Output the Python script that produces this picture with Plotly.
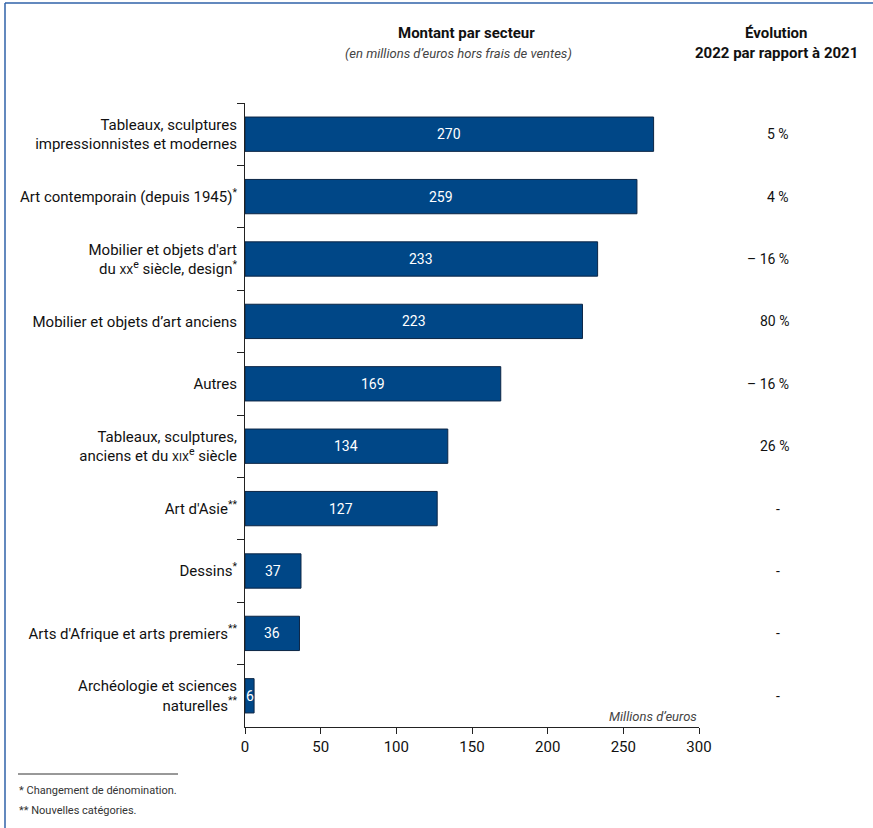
import plotly.graph_objects as go

categories = [
    "Tableaux, sculptures<br>impressionnistes et modernes",
    "Art contemporain (depuis 1945)<sup>*</sup>",
    "Mobilier et objets d'art<br>du <span style='font-size:11px'>XX</span><sup>e</sup> siècle, design<sup>*</sup>",
    "Mobilier et objets d’art anciens",
    "Autres",
    "Tableaux, sculptures,<br>anciens et du <span style='font-size:11px'>XIX</span><sup>e</sup> siècle",
    "Art d'Asie<sup>**</sup>",
    "Dessins<sup>*</sup>",
    "Arts d'Afrique et arts premiers<sup>**</sup>",
    "Archéologie et sciences<br>naturelles<sup>**</sup>",
]
values = [270, 259, 233, 223, 169, 134, 127, 37, 36, 6]
evolution = ["5 %", "4 %", "– 16 %", "80 %", "– 16 %", "26 %", "-", "-", "-", "-"]
x_ticks = [0, 50, 100, 150, 200, 250, 300]

FONT = "Roboto, sans-serif"
BAR = "#004787"
TXT = "#111111"

fig = go.Figure()
fig.add_trace(go.Bar(
    x=values, y=categories, orientation="h",
    marker=dict(color=BAR, line=dict(color="#0b2545", width=1)),
    width=0.55, hoverinfo="skip",
))

annotations = []
for c, v in zip(categories, values):
    annotations.append(dict(x=v / 2, y=c, xref="x", yref="y", text=str(v), showarrow=False,
                            font=dict(family=FONT, size=14, color="white")))
for c, e in zip(categories, evolution):
    if e == "-":
        annotations.append(dict(x=(778 - 245) / 454, y=c, xref="paper", yref="y", text=e, showarrow=False,
                                xanchor="center", font=dict(family=FONT, size=14, color=TXT)))
    else:
        annotations.append(dict(x=(791 - 245) / 454, y=c, xref="paper", yref="y", text=e, showarrow=False,
                                xanchor="right", font=dict(family=FONT, size=14, color=TXT)))

annotations += [
    dict(x=(466 - 245) / 454, y=(727 - 33) / 624, xref="paper", yref="paper", text="<b>Montant par secteur</b>",
         showarrow=False, xanchor="center", yanchor="middle", font=dict(family=FONT, size=15, color=TXT)),
    dict(x=(458 - 245) / 454, y=(727 - 53) / 624, xref="paper", yref="paper",
         text="<i>(en millions d’euros hors frais de ventes)</i>",
         showarrow=False, xanchor="center", yanchor="middle", font=dict(family=FONT, size=13, color="#444")),
    dict(x=(776 - 245) / 454, y=(727 - 33) / 624, xref="paper", yref="paper", text="<b>Évolution</b>",
         showarrow=False, xanchor="center", yanchor="middle", font=dict(family=FONT, size=15, color=TXT)),
    dict(x=(776 - 245) / 454, y=(727 - 53) / 624, xref="paper", yref="paper", text="<b>2022 par rapport à 2021</b>",
         showarrow=False, xanchor="center", yanchor="middle", font=dict(family=FONT, size=15, color=TXT)),
    dict(x=1.0, y=(727 - 716) / 624, xref="paper", yref="paper", text="<i>Millions d’euros</i>",
         showarrow=False, xanchor="right", yanchor="middle", font=dict(family=FONT, size=13, color="#444")),
    dict(x=(17 - 245) / 454, y=(727 - 790) / 624, xref="paper", yref="paper", text="* Changement de dénomination.",
         showarrow=False, xanchor="left", yanchor="middle", font=dict(family=FONT, size=11, color="#333")),
    dict(x=(17 - 245) / 454, y=(727 - 810) / 624, xref="paper", yref="paper", text="** Nouvelles catégories.",
         showarrow=False, xanchor="left", yanchor="middle", font=dict(family=FONT, size=11, color="#333")),
]

shapes = [
    dict(type="line", xref="paper", yref="paper", x0=(18 - 245) / 454, x1=(178 - 245) / 454,
         y0=(727 - 774) / 624, y1=(727 - 774) / 624, line=dict(color="#333", width=1)),
    dict(type="line", xref="paper", yref="paper", x0=(5 - 245) / 454, x1=(873 - 245) / 454,
         y0=(727 - 3) / 624, y1=(727 - 3) / 624, line=dict(color="#2f62a8", width=1.5)),
    dict(type="line", xref="paper", yref="paper", x0=(5 - 245) / 454, x1=(5 - 245) / 454,
         y0=(727 - 3) / 624, y1=(727 - 830) / 624, line=dict(color="#2f62a8", width=1.5)),
]

fig.update_layout(
    width=873, height=828,
    margin=dict(l=245, r=174, t=103, b=101),
    paper_bgcolor="white", plot_bgcolor="white",
    showlegend=False,
    font=dict(family=FONT, size=15, color=TXT),
    annotations=annotations, shapes=shapes,
    xaxis=dict(range=[0, 300], tickvals=x_ticks, ticks="outside", ticklen=6, tickcolor="#222",
               showline=True, linecolor="#222", linewidth=1, showgrid=False, zeroline=False,
               tickfont=dict(family=FONT, size=15, color=TXT), fixedrange=True),
    yaxis=dict(autorange="reversed", ticks="outside", tickson="boundaries", ticklen=7, tickcolor="#222",
               showline=True, linecolor="#222", linewidth=1, showgrid=False,
               tickfont=dict(family=FONT, size=15, color=TXT), ticklabelstandoff=4, fixedrange=True),
)

fig.write_html("out.html", config={"displayModeBar": False},
               post_script="document.body.style.margin='0';")
